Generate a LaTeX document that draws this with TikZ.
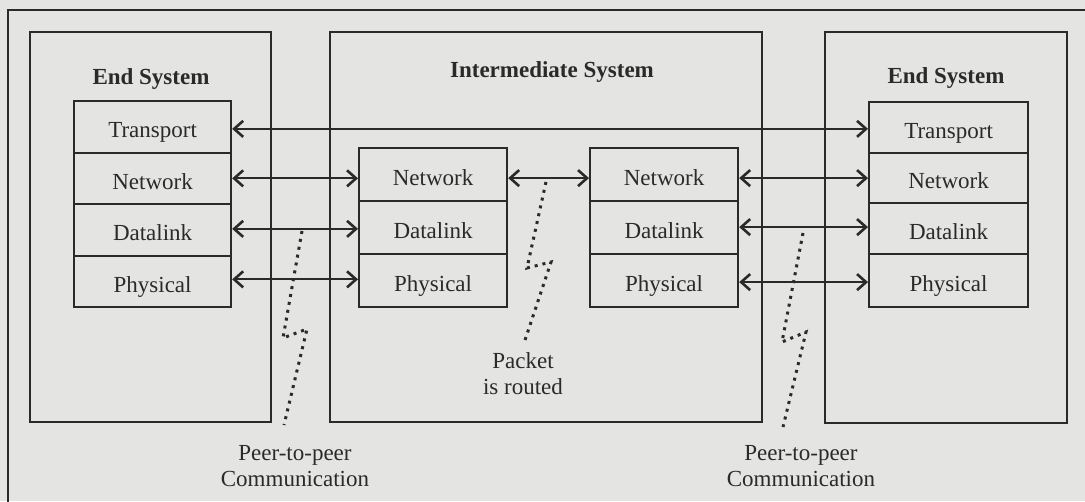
\documentclass[tikz,border=0pt]{standalone}
\usepackage{fontspec}
\setmainfont{Liberation Serif}
\usetikzlibrary{arrows.meta,calc}
\definecolor{paper}{HTML}{E4E4E2}
\definecolor{ink}{HTML}{2A2A2A}
\tikzset{
  frame/.style={draw=ink, line width=2.2pt},
  layer/.style={draw=ink, line width=2.2pt, minimum width=#1, inner sep=0pt,
    text=ink, font=\fontsize{23}{27}\selectfont, text height=22pt, text depth=0pt},
  title/.style={text=ink, font=\fontsize{23}{27}\selectfont\bfseries},
  caption/.style={text=ink, align=center, font=\fontsize{23}{26}\selectfont},
  peer/.style={draw=ink, line width=2.2pt, {Straight Barb[length=9pt,width=16pt,line width=2.6pt]}-{Straight Barb[length=9pt,width=16pt,line width=2.6pt]}},
  spark/.style={draw=ink, line width=3pt, dash pattern=on 3pt off 5pt}
}
\begin{document}
\begin{tikzpicture}[x=1pt,y=-1pt]
  % page and outer frame
  \fill[paper] (0,0) rectangle (1085,501);
  \useasboundingbox (0,0) rectangle (1085,501);
  \draw[frame] (8,520) -- (8,10) -- (1100,10);

  % the three systems
  \draw[frame] (30,32) rectangle (271,422);
  \draw[frame] (330,32) rectangle (762,422);
  \draw[frame] (825,32) rectangle (1067,423);
  \node[title] (tL) at (151,79) {End System};
  \node[title] (tI) at (552,72) {Intermediate System};
  \node[title] (tR) at (946,78) {End System};

  % left end system stack
  \node[layer=157pt, minimum height=51.5pt, anchor=north west] (lT) at (73,100) {Transport};
  \node[layer=157pt, minimum height=51.5pt, anchor=north west] (lN) at (73,151.5) {Network};
  \node[layer=157pt, minimum height=51.5pt, anchor=north west] (lD) at (73,203) {Datalink};
  \node[layer=157pt, minimum height=51.5pt, anchor=north west] (lP) at (73,254.5) {Physical};

  % intermediate system, left stack
  \node[layer=148pt, minimum height=53pt, anchor=north west] (aN) at (358,147) {Network};
  \node[layer=148pt, minimum height=53pt, anchor=north west] (aD) at (358,200) {Datalink};
  \node[layer=148pt, minimum height=53pt, anchor=north west] (aP) at (358,253) {Physical};

  % intermediate system, right stack
  \node[layer=148pt, minimum height=53pt, anchor=north west] (bN) at (589,147) {Network};
  \node[layer=148pt, minimum height=53pt, anchor=north west] (bD) at (589,200) {Datalink};
  \node[layer=148pt, minimum height=53pt, anchor=north west] (bP) at (589,253) {Physical};

  % right end system stack
  \node[layer=159pt, minimum height=50.5pt, anchor=north west] (rT) at (868,101) {Transport};
  \node[layer=159pt, minimum height=50.5pt, anchor=north west] (rN) at (868,151.5) {Network};
  \node[layer=159pt, minimum height=50.5pt, anchor=north west] (rD) at (868,202) {Datalink};
  \node[layer=159pt, minimum height=53.5pt, anchor=north west] (rP) at (868,252.5) {Physical};

  % peer links
  \draw[peer] ([yshift=-2pt]lT.east) -- ([yshift=-2pt]lT.east -| rT.west);
  \draw[peer] (lN.east) -- (lN.east -| aN.west);
  \draw[peer] ([yshift=1pt]lD.east) -- ([yshift=1pt]lD.east -| aD.west);
  \draw[peer] ([yshift=2pt]lP.east) -- ([yshift=2pt]lP.east -| aP.west);
  \draw[peer] ([yshift=-3.5pt]aN.east) -- ([yshift=-3.5pt]aN.east -| bN.west);
  \draw[peer] ([yshift=-3.5pt]bN.east) -- ([yshift=-3.5pt]bN.east -| rN.west);
  \draw[peer] ([yshift=0.5pt]bD.east) -- ([yshift=0.5pt]bD.east -| rD.west);
  \draw[peer] ([yshift=-1.5pt]bP.east) -- ([yshift=-1.5pt]bP.east -| rP.west);

  % dotted lightning marks
  \draw[spark] (302,231) -- (283,338) -- (307,329) -- (284,425);
  \draw[spark] (546,182) -- (527,268) -- (551,262) -- (525,340);
  \draw[spark] (803,233) -- (782,342) -- (806,332) -- (783,427);

  % captions
  \node[caption] (cP) at (523,374) {Packet\\is routed};
  \node[caption] (cL) at (295,466) {Peer-to-peer\\Communication};
  \node[caption] (cR) at (801,466) {Peer-to-peer\\Communication};
\end{tikzpicture}
\end{document}
